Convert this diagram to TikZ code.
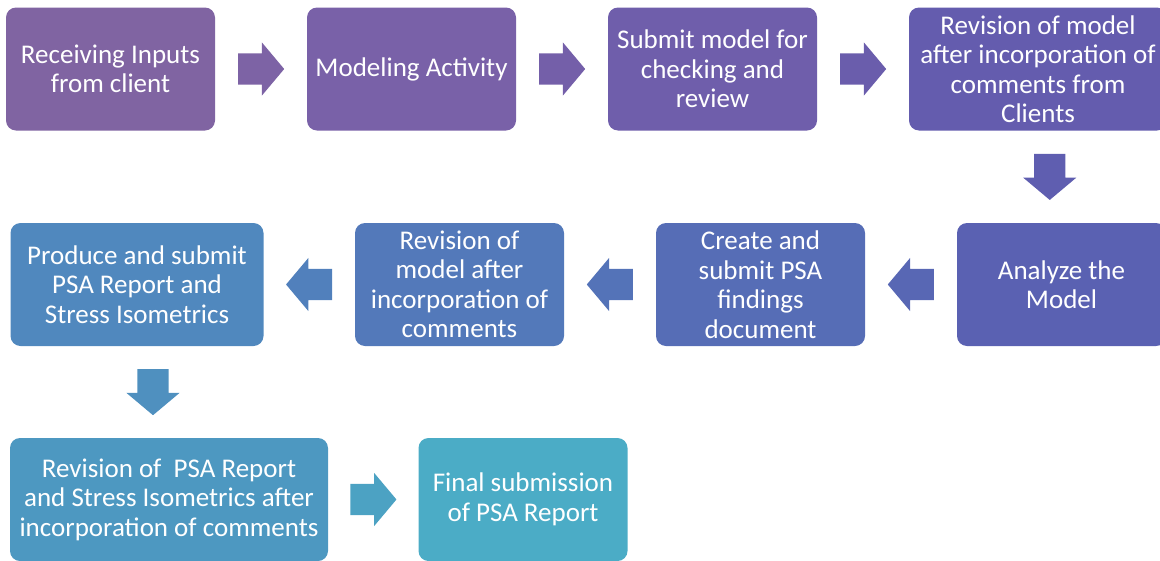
\documentclass[tikz,border=0pt]{standalone}
\usepackage{fontspec}
\setmainfont{Carlito}
\usetikzlibrary{shapes.arrows,calc}

\definecolor{boxA}{HTML}{8064A2}
\definecolor{boxB}{HTML}{7961A8}
\definecolor{boxC}{HTML}{6F5EAB}
\definecolor{boxD}{HTML}{645CAE}
\definecolor{boxE}{HTML}{5A61B2}
\definecolor{boxF}{HTML}{566DB6}
\definecolor{boxG}{HTML}{5379BA}
\definecolor{boxH}{HTML}{5088BE}
\definecolor{boxI}{HTML}{4D98C1}
\definecolor{boxJ}{HTML}{4BACC6}

\begin{document}
\begin{tikzpicture}[x=1pt, y=-1pt,
  stagebox/.style={rounded corners=10pt, minimum width=209pt, minimum height=123pt,
    inner sep=2pt, align=center, text=white, font=\fontsize{27}{29.5}\selectfont},
  blockarrow/.style={single arrow, anchor=tail, minimum height=46pt, inner xsep=0pt,
    inner ysep=15.5pt, single arrow head extend=11pt, single arrow tip angle=100}]
  \useasboundingbox (0,0) rectangle (1160,560);

  % Fila 1
  \node[stagebox, fill=boxA] (inputs)  at (110.5,69) {Receiving Inputs\\from client};
  \node[stagebox, fill=boxB] (modeling) at (411.5,69) {Modeling Activity};
  \node[stagebox, fill=boxC] (submit)  at (712.5,69) {Submit model for\\checking and\\review};
  \node[stagebox, fill=boxD, minimum width=258pt] (revclient) at (1038,69)
        {Revision of model\\after incorporation of\\comments from\\Clients};

  % Fila 2
  \node[stagebox, fill=boxE] (analyze)  at (1061.5,284.5) {Analyze the\\Model};
  \node[stagebox, fill=boxF] (findings) at (760.5,284.5) {Create and\\submit PSA\\findings\\document};
  \node[stagebox, fill=boxG] (revmodel) at (459.5,284.5) {Revision of\\model after\\incorporation of\\comments};
  \node[stagebox, fill=boxH, minimum width=253pt] (produce) at (137,284.5)
        {Produce and submit\\PSA Report and\\Stress Isometrics};

  % Fila 3
  \node[stagebox, fill=boxI, minimum width=318pt] (revreport) at (169,499.5)
        {Revision of \ PSA Report\\and Stress Isometrics after\\incorporation of comments};
  \node[stagebox, fill=boxJ] (final) at (523,499.5) {Final submission\\of PSA Report};

  % Flechas (cola a 23pt antes del punto medio)
  \node[blockarrow, fill=boxA!50!boxB] at ($(inputs.east)!0.5!(modeling.west)!23pt!(inputs.east)$) {};
  \node[blockarrow, fill=boxB!50!boxC] at ($(modeling.east)!0.5!(submit.west)!23pt!(modeling.east)$) {};
  \node[blockarrow, fill=boxC!50!boxD] at ($(submit.east)!0.5!(revclient.west)!23pt!(submit.east)$) {};
  \node[blockarrow, fill=boxD!50!boxE, rotate=-90]
        at ($(revclient.south)!0.5!(analyze.north) + (0,-23)$) {};
  \node[blockarrow, fill=boxE!50!boxF, rotate=180]
        at ($(analyze.west)!0.5!(findings.east)!23pt!(analyze.west)$) {};
  \node[blockarrow, fill=boxF!50!boxG, rotate=180]
        at ($(findings.west)!0.5!(revmodel.east)!23pt!(findings.west)$) {};
  \node[blockarrow, fill=boxG!50!boxH, rotate=180]
        at ($(revmodel.west)!0.5!(produce.east)!23pt!(revmodel.west)$) {};
  \node[blockarrow, fill=boxH!50!boxI, rotate=-90]
        at ($(produce.south)!0.5!(revreport.north) + (0,-23)$) {};
  \node[blockarrow, fill=boxI!50!boxJ] at ($(revreport.east)!0.5!(final.west)!23pt!(revreport.east)$) {};
\end{tikzpicture}
\end{document}
